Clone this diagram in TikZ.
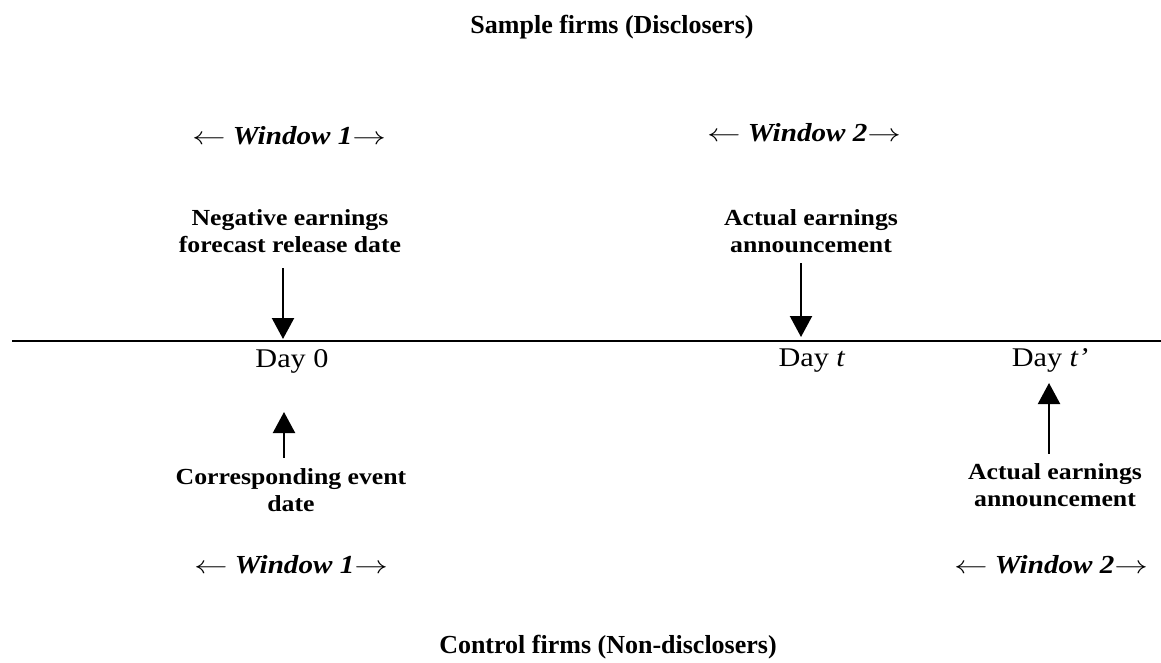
\documentclass[tikz,border=0pt]{standalone}
\usepackage{graphicx}
\usepackage{fontspec}
\setmainfont{Liberation Serif}
\newfontfamily\widefont{Liberation Serif}[FakeStretch=1.12]
\usetikzlibrary{arrows.meta}
\newcommand\myleftarr{\scalebox{1.35}[1]{$\leftarrow$}}
\newcommand\myrightarr{\scalebox{1.35}[1]{$\rightarrow$}}
\tikzset{
  titletext/.style={font=\fontsize{26}{30}\selectfont\bfseries, inner sep=0pt, anchor=base},
  labtext/.style={font=\widefont\fontsize{23}{27}\selectfont\bfseries, align=center, inner sep=0pt, anchor=base},
  daytext/.style={font=\widefont\fontsize{27}{30}\selectfont, inner sep=0pt, anchor=base},
  wintext/.style={font=\widefont\fontsize{26}{30}\selectfont\bfseries\itshape, inner sep=0pt, anchor=base},
  timeline/.style={line width=2pt},
  evarrow/.style={line width=2.2pt, -{Triangle[width=22pt,length=21pt]}},
}
\begin{document}
\begin{tikzpicture}[x=1pt,y=-1pt]
\useasboundingbox[fill=white] (0,0) rectangle (1161,663);

% titles
\node[titletext] (ttop) at (612,34) {Sample firms (Disclosers)};
\node[titletext] (tbot) at (608,653) {Control firms (Non-disclosers)};

% windows
\node[wintext] (w1t) at (289,145) {\myleftarr\ Window 1\myrightarr};
\node[wintext] (w2t) at (804,142) {\myleftarr\ Window 2\myrightarr};
\node[wintext] (w1b) at (291,573) {\myleftarr\ Window 1\myrightarr};
\node[wintext] (w2b) at (1051,573) {\myleftarr\ Window 2\myrightarr};

% labels (base = baseline of last line)
\node[labtext] (neg) at (290,252) {Negative earnings\\forecast release date};
\node[labtext] (act) at (811,252) {Actual earnings\\announcement};
\node[labtext] (corr) at (291,511) {Corresponding event\\date};
\node[labtext] (actb) at (1055,506) {Actual earnings\\announcement};

% timeline
\coordinate (L) at (12,341);
\coordinate (R) at (1161,341);
\draw[timeline] (L) -- (R);

% day labels
\node[daytext] (day0) at (292,367) {Day 0};
\node[daytext] (dayt) at (812,366) {Day \textit{t}};
\node[daytext] (daytp) at (1050,366) {Day \textit{t’}};

% arrow end points
\coordinate (d0) at (283,339);
\coordinate (dt) at (801,337);
\coordinate (u0) at (284,412);
\coordinate (ut) at (1049,383);

\draw[evarrow, shorten <=16pt] (neg.south -| d0) -- (d0);
\draw[evarrow, shorten <=11pt] (act.south -| dt) -- (dt);
\draw[evarrow, shorten <=10pt] (corr.north -| u0) -- (u0);
\draw[evarrow, shorten <=9pt] (actb.north -| ut) -- (ut);
\end{tikzpicture}
\end{document}
